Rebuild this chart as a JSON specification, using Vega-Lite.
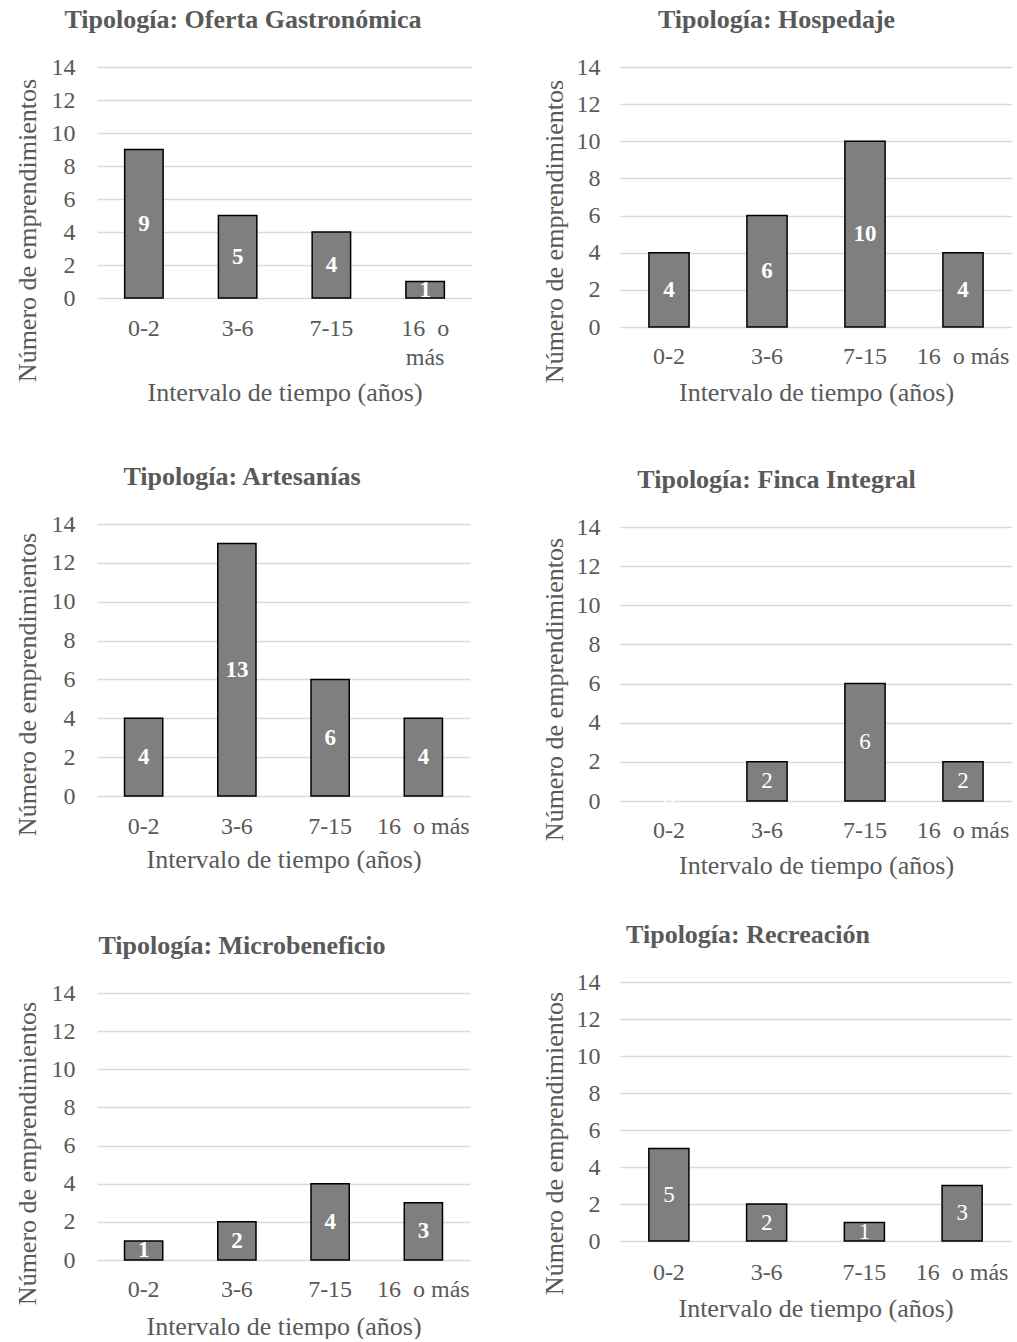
{
  "$schema": "https://vega.github.io/schema/vega-lite/v6.json",
  "padding": {"left": 14, "top": 7, "right": 0, "bottom": 0},
  "background": "#ffffff",
  "data": {"values": [
    {"tipologia": "Oferta Gastronómica", "intervalo": "0-2", "n": 9},
    {"tipologia": "Oferta Gastronómica", "intervalo": "3-6", "n": 5},
    {"tipologia": "Oferta Gastronómica", "intervalo": "7-15", "n": 4},
    {"tipologia": "Oferta Gastronómica", "intervalo": "16\u00a0 o más", "n": 1},
    {"tipologia": "Hospedaje", "intervalo": "0-2", "n": 4},
    {"tipologia": "Hospedaje", "intervalo": "3-6", "n": 6},
    {"tipologia": "Hospedaje", "intervalo": "7-15", "n": 10},
    {"tipologia": "Hospedaje", "intervalo": "16\u00a0 o más", "n": 4},
    {"tipologia": "Artesanías", "intervalo": "0-2", "n": 4},
    {"tipologia": "Artesanías", "intervalo": "3-6", "n": 13},
    {"tipologia": "Artesanías", "intervalo": "7-15", "n": 6},
    {"tipologia": "Artesanías", "intervalo": "16\u00a0 o más", "n": 4},
    {"tipologia": "Finca Integral", "intervalo": "0-2", "n": 0},
    {"tipologia": "Finca Integral", "intervalo": "3-6", "n": 2},
    {"tipologia": "Finca Integral", "intervalo": "7-15", "n": 6},
    {"tipologia": "Finca Integral", "intervalo": "16\u00a0 o más", "n": 2},
    {"tipologia": "Microbeneficio", "intervalo": "0-2", "n": 1},
    {"tipologia": "Microbeneficio", "intervalo": "3-6", "n": 2},
    {"tipologia": "Microbeneficio", "intervalo": "7-15", "n": 4},
    {"tipologia": "Microbeneficio", "intervalo": "16\u00a0 o más", "n": 3},
    {"tipologia": "Recreación", "intervalo": "0-2", "n": 5},
    {"tipologia": "Recreación", "intervalo": "3-6", "n": 2},
    {"tipologia": "Recreación", "intervalo": "7-15", "n": 1},
    {"tipologia": "Recreación", "intervalo": "16\u00a0 o más", "n": 3}
  ]},
  "spacing": 69,
  "hconcat": [
    {
      "spacing": 61,
      "vconcat": [
        {
          "spacing": 59,
          "vconcat": [
            {
              "width": 375, "height": 231,
              "title": {"text": "Tipología: Oferta Gastronómica", "anchor": "middle", "frame": "bounds", "offset": 22},
              "transform": [{"filter": {"field": "tipologia", "equal": "Oferta Gastronómica"}}],
              "encoding": {"x": {"field": "intervalo", "type": "nominal", "sort": ["0-2", "3-6", "7-15", "16\u00a0 o más"], "scale": {"paddingInner": 0.59, "paddingOuter": 0.295},
                "axis": {"title": "Intervalo de tiempo (años)", "labelPadding": 18, "titlePadding": 10, "labelLineHeight": 29, "labelExpr": "length(datum.label) > 6 ? ['16\u00a0 o', 'más'] : datum.label"}}},
              "layer": [
                {"transform": [{"filter": "datum.n > 0"}],
                 "mark": {"type": "bar", "fill": "#7f7f7f", "stroke": "#000000", "strokeWidth": 1.5},
                 "encoding": {"y": {"field": "n", "type": "quantitative", "scale": {"domain": [0, 14], "nice": false}, "axis": {"values": [0, 2, 4, 6, 8, 10, 12, 14], "title": "Número de emprendimientos", "titleY": 163}}}},
                {"mark": {"type": "text", "color": "#ffffff", "fontSize": 23, "fontWeight": "bold", "baseline": "middle"},
                 "encoding": {"y": {"field": "n", "type": "quantitative", "scale": {"domain": [0, 28], "nice": false}, "axis": null}, "text": {"field": "n", "type": "quantitative"}}}
              ],
              "resolve": {"scale": {"y": "independent"}}
            },
            {
              "width": 373, "height": 272,
              "title": {"text": "Tipología: Artesanías", "anchor": "middle", "frame": "bounds", "offset": 22},
              "transform": [{"filter": {"field": "tipologia", "equal": "Artesanías"}}],
              "encoding": {"x": {"field": "intervalo", "type": "nominal", "sort": ["0-2", "3-6", "7-15", "16\u00a0 o más"], "scale": {"paddingInner": 0.59, "paddingOuter": 0.295},
                "axis": {"title": "Intervalo de tiempo (años)", "labelPadding": 18, "titlePadding": 8}}},
              "layer": [
                {"transform": [{"filter": "datum.n > 0"}],
                 "mark": {"type": "bar", "fill": "#7f7f7f", "stroke": "#000000", "strokeWidth": 1.5},
                 "encoding": {"y": {"field": "n", "type": "quantitative", "scale": {"domain": [0, 14], "nice": false}, "axis": {"values": [0, 2, 4, 6, 8, 10, 12, 14], "title": "Número de emprendimientos", "titleY": 160}}}},
                {"mark": {"type": "text", "color": "#ffffff", "fontSize": 23, "fontWeight": "bold", "baseline": "middle"},
                 "encoding": {"y": {"field": "n", "type": "quantitative", "scale": {"domain": [0, 28], "nice": false}, "axis": null}, "text": {"field": "n", "type": "quantitative"}}}
              ],
              "resolve": {"scale": {"y": "independent"}}
            }
          ]
        },
        {
          "width": 373, "height": 267,
          "title": {"text": "Tipología: Microbeneficio", "anchor": "middle", "frame": "bounds", "offset": 22},
          "transform": [{"filter": {"field": "tipologia", "equal": "Microbeneficio"}}],
          "encoding": {"x": {"field": "intervalo", "type": "nominal", "sort": ["0-2", "3-6", "7-15", "16\u00a0 o más"], "scale": {"paddingInner": 0.59, "paddingOuter": 0.295},
            "axis": {"title": "Intervalo de tiempo (años)", "labelPadding": 17, "titlePadding": 12}}},
          "layer": [
            {"transform": [{"filter": "datum.n > 0"}],
             "mark": {"type": "bar", "fill": "#7f7f7f", "stroke": "#000000", "strokeWidth": 1.5},
             "encoding": {"y": {"field": "n", "type": "quantitative", "scale": {"domain": [0, 14], "nice": false}, "axis": {"values": [0, 2, 4, 6, 8, 10, 12, 14], "title": "Número de emprendimientos", "titleY": 160}}}},
            {"mark": {"type": "text", "color": "#ffffff", "fontSize": 23, "fontWeight": "bold", "baseline": "middle"},
             "encoding": {"y": {"field": "n", "type": "quantitative", "scale": {"domain": [0, 28], "nice": false}, "axis": null}, "text": {"field": "n", "type": "quantitative"}}}
          ],
          "resolve": {"scale": {"y": "independent"}}
        }
      ]
    },
    {
      "spacing": 44,
      "vconcat": [
        {
          "spacing": 62,
          "vconcat": [
            {
              "width": 392, "height": 260,
              "title": {"text": "Tipología: Hospedaje", "anchor": "middle", "frame": "bounds", "offset": 22},
              "transform": [{"filter": {"field": "tipologia", "equal": "Hospedaje"}}],
              "encoding": {"x": {"field": "intervalo", "type": "nominal", "sort": ["0-2", "3-6", "7-15", "16\u00a0 o más"], "scale": {"paddingInner": 0.59, "paddingOuter": 0.295},
                "axis": {"title": "Intervalo de tiempo (años)", "labelPadding": 17, "titlePadding": 11}}},
              "layer": [
                {"transform": [{"filter": "datum.n > 0"}],
                 "mark": {"type": "bar", "fill": "#7f7f7f", "stroke": "#000000", "strokeWidth": 1.5},
                 "encoding": {"y": {"field": "n", "type": "quantitative", "scale": {"domain": [0, 14], "nice": false}, "axis": {"values": [0, 2, 4, 6, 8, 10, 12, 14], "title": "Número de emprendimientos", "titleY": 164, "labelPadding": 20, "titlePadding": 9}}}},
                {"mark": {"type": "text", "color": "#ffffff", "fontSize": 23, "fontWeight": "bold", "baseline": "middle"},
                 "encoding": {"y": {"field": "n", "type": "quantitative", "scale": {"domain": [0, 28], "nice": false}, "axis": null}, "text": {"field": "n", "type": "quantitative"}}}
              ],
              "resolve": {"scale": {"y": "independent"}}
            },
            {
              "width": 392, "height": 274,
              "title": {"text": "Tipología: Finca Integral", "anchor": "middle", "frame": "bounds", "offset": 22},
              "transform": [{"filter": {"field": "tipologia", "equal": "Finca Integral"}}],
              "encoding": {"x": {"field": "intervalo", "type": "nominal", "sort": ["0-2", "3-6", "7-15", "16\u00a0 o más"], "scale": {"paddingInner": 0.59, "paddingOuter": 0.295},
                "axis": {"title": "Intervalo de tiempo (años)", "labelPadding": 17, "titlePadding": 10}}},
              "layer": [
                {"transform": [{"filter": "datum.n > 0"}],
                 "mark": {"type": "bar", "fill": "#7f7f7f", "stroke": "#000000", "strokeWidth": 1.5},
                 "encoding": {"y": {"field": "n", "type": "quantitative", "scale": {"domain": [0, 14], "nice": false}, "axis": {"values": [0, 2, 4, 6, 8, 10, 12, 14], "title": "Número de emprendimientos", "titleY": 162, "labelPadding": 20, "titlePadding": 9}}}},
                {"mark": {"type": "text", "color": "#ffffff", "fontSize": 23, "fontWeight": "normal", "baseline": "middle"},
                 "encoding": {"y": {"field": "n", "type": "quantitative", "scale": {"domain": [0, 28], "nice": false}, "axis": null}, "text": {"field": "n", "type": "quantitative"}}}
              ],
              "resolve": {"scale": {"y": "independent"}}
            }
          ]
        },
        {
          "width": 391, "height": 259,
          "title": {"text": "Tipología: Recreación", "anchor": "middle", "frame": "bounds", "offset": 22, "dx": -28},
          "transform": [{"filter": {"field": "tipologia", "equal": "Recreación"}}],
          "encoding": {"x": {"field": "intervalo", "type": "nominal", "sort": ["0-2", "3-6", "7-15", "16\u00a0 o más"], "scale": {"paddingInner": 0.59, "paddingOuter": 0.295},
            "axis": {"title": "Intervalo de tiempo (años)", "labelPadding": 19, "titlePadding": 11}}},
          "layer": [
            {"transform": [{"filter": "datum.n > 0"}],
             "mark": {"type": "bar", "fill": "#7f7f7f", "stroke": "#000000", "strokeWidth": 1.5},
             "encoding": {"y": {"field": "n", "type": "quantitative", "scale": {"domain": [0, 14], "nice": false}, "axis": {"values": [0, 2, 4, 6, 8, 10, 12, 14], "title": "Número de emprendimientos", "titleY": 161, "labelPadding": 20, "titlePadding": 9}}}},
            {"mark": {"type": "text", "color": "#ffffff", "fontSize": 23, "fontWeight": "normal", "baseline": "middle"},
             "encoding": {"y": {"field": "n", "type": "quantitative", "scale": {"domain": [0, 28], "nice": false}, "axis": null}, "text": {"field": "n", "type": "quantitative"}}}
          ],
          "resolve": {"scale": {"y": "independent"}}
        }
      ]
    }
  ],
  "config": {
    "view": {"stroke": null},
    "font": "Liberation Serif",
    "style": {"guide-label": {"font": "Liberation Serif"}, "guide-title": {"font": "Liberation Serif"}},
    "axis": {"labelFont": "Liberation Serif", "titleFont": "Liberation Serif", "labelColor": "#595959", "titleColor": "#595959", "titleFontWeight": "normal", "labelFontSize": 24, "titleFontSize": 26, "ticks": false, "domain": false, "gridColor": "#d9d9d9", "gridWidth": 1.5, "labelOverlap": false},
    "axisX": {"grid": false, "labelAngle": 0},
    "axisY": {"labelPadding": 22, "titlePadding": 11},
    "title": {"font": "Liberation Serif", "color": "#595959", "fontWeight": "bold", "fontSize": 26}
  }
}
